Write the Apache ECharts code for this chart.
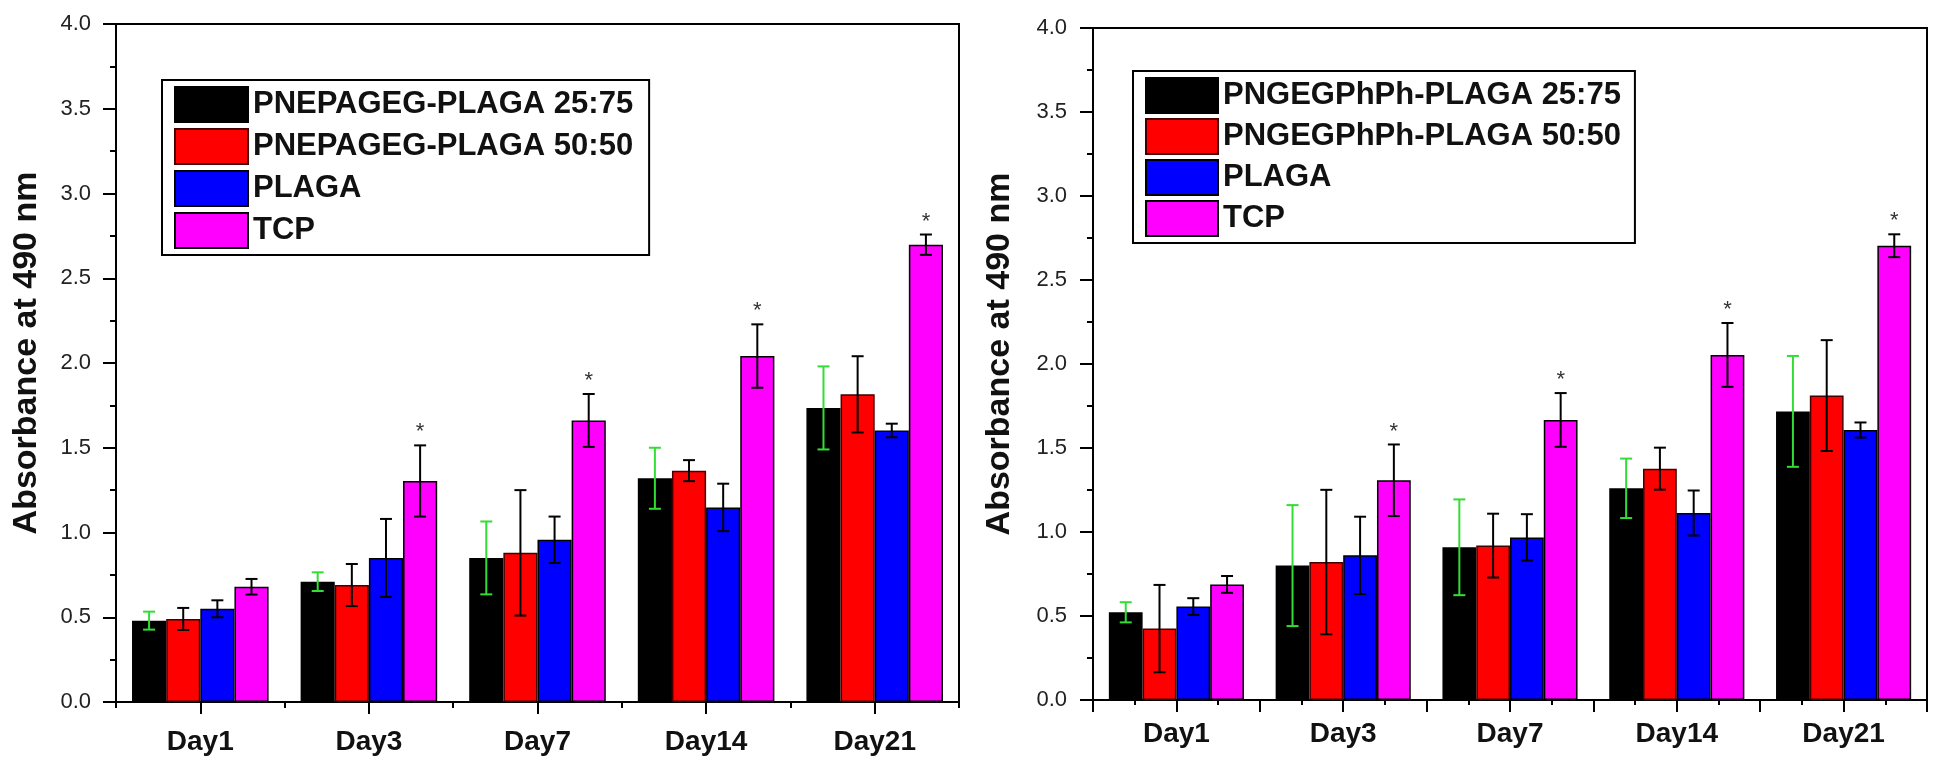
<!DOCTYPE html>
<html>
<head>
<meta charset="utf-8">
<script src="https://cdn.jsdelivr.net/npm/echarts@6/dist/echarts.min.js"></script>
<style>
html,body{margin:0;padding:0;background:#fff;}
#c{width:1937px;height:771px;}
</style>
</head>
<body>
<div id="c"></div>
<script>
// ---- data ----
const days = ['Day1', 'Day3', 'Day7', 'Day14', 'Day21'];
const yTicks = ['0.0','0.5','1.0','1.5','2.0','2.5','3.0','3.5','4.0'];

const leftNames = ['PNEPAGEG-PLAGA 25:75', 'PNEPAGEG-PLAGA 50:50', 'PLAGA', 'TCP'];
const L_pne2575 = [0.48, 0.71, 0.85, 1.32, 1.735];
const L_pne2575_err = [0.053, 0.055, 0.215, 0.18, 0.245];
const L_pne5050 = [0.49, 0.69, 0.88, 1.365, 1.815];
const L_pne5050_err = [0.065, 0.124, 0.37, 0.062, 0.225];
const L_plaga = [0.55, 0.85, 0.957, 1.148, 1.602];
const L_plaga_err = [0.05, 0.23, 0.137, 0.14, 0.04];
const L_tcp = [0.68, 1.304, 1.661, 2.041, 2.698];
const L_tcp_err = [0.046, 0.21, 0.156, 0.187, 0.06];
const L_tcp_marks = ['', '*', '*', '*', '*'];

const rightNames = ['PNGEGPhPh-PLAGA 25:75', 'PNGEGPhPh-PLAGA 50:50', 'PLAGA', 'TCP'];
const R_png2575 = [0.522, 0.80, 0.909, 1.26, 1.718];
const R_png2575_err = [0.06, 0.36, 0.285, 0.177, 0.33];
const R_png5050 = [0.425, 0.821, 0.919, 1.377, 1.812];
const R_png5050_err = [0.26, 0.43, 0.19, 0.125, 0.33];
const R_plaga = [0.556, 0.861, 0.968, 1.113, 1.607];
const R_plaga_err = [0.05, 0.23, 0.138, 0.134, 0.045];
const R_tcp = [0.688, 1.308, 1.667, 2.054, 2.704];
const R_tcp_err = [0.05, 0.213, 0.16, 0.19, 0.068];
const R_tcp_marks = ['', '*', '*', '*', '*'];

// ---- styling ----
const FONT = '"Liberation Sans", Arial, sans-serif';
const colors = ['#000000', '#ff0000', '#0000ff', '#ff00ff'];
const errColors = ['#33dd33', '#000000', '#000000', '#000000'];
const CAT_GAP = 0.19;

function barSeries(name, vals, idx, xi, yi) {
  return {
    type: 'bar', name: name, data: vals, xAxisIndex: xi, yAxisIndex: yi,
    barGap: '0%', barCategoryGap: (CAT_GAP * 100) + '%',
    itemStyle: {color: colors[idx], borderColor: idx === 1 ? '#400' : '#000', borderWidth: 1.5},
    emphasis: {disabled: true}, z: 2
  };
}

function errSeries(vals, errs, idx, xi, yi, marks) {
  return {
    type: 'custom', xAxisIndex: xi, yAxisIndex: yi, z: 5,
    data: vals.map((v, i) => [i, v, errs[i]]),
    renderItem: function (params, api) {
      const x = api.value(0), v = api.value(1), e = api.value(2);
      const c = api.coord([x, v]);
      const band = api.size([1, 0])[0];
      const bw = band * (1 - CAT_GAP) / 4;
      const cx = c[0] + (idx - 1.5) * bw;
      const top = api.coord([x, v + e])[1];
      const bot = api.coord([x, v - e])[1];
      const hw = 6;
      const st = {stroke: errColors[idx], lineWidth: 2};
      const children = [
        {type: 'line', shape: {x1: cx, y1: top, x2: cx, y2: bot}, style: st},
        {type: 'line', shape: {x1: cx - hw, y1: top, x2: cx + hw, y2: top}, style: st},
        {type: 'line', shape: {x1: cx - hw, y1: bot, x2: cx + hw, y2: bot}, style: st}
      ];
      const m = marks ? marks[params.dataIndex] : '';
      if (m) {
        children.push({type: 'text', x: cx, y: top - 13,
          style: {text: m, fontSize: 22, fontFamily: FONT, fill: '#333', align: 'center', verticalAlign: 'middle'}});
      }
      return {type: 'group', children: children};
    }
  };
}

function yAxis(gridIndex, nameGap, labelMargin) {
  return {
    type: 'value', gridIndex: gridIndex, min: 0, max: 4, interval: 0.5,
    axisLine: {show: true, lineStyle: {color: '#000', width: 2}},
    axisTick: {show: true, inside: false, length: 13, lineStyle: {color: '#000', width: 2}},
    minorTick: {show: true, splitNumber: 2, length: 6, lineStyle: {color: '#000', width: 2}},
    splitLine: {show: false},
    axisLabel: {fontSize: 22, fontFamily: FONT, color: '#222', margin: labelMargin,
      formatter: function (v) { return yTicks[Math.round(v / 0.5)]; }},
    name: 'Absorbance at 490 nm', nameLocation: 'middle', nameGap: nameGap,
    nameTextStyle: {fontSize: 34, fontWeight: 'bold', fontFamily: FONT, color: '#111', padding: [0, 0, 0, 20]}
  };
}

function catAxis(gridIndex, showTick, labelMargin) {
  return {
    type: 'category', gridIndex: gridIndex, data: days, position: 'bottom',
    axisLine: {show: true, lineStyle: {color: '#000', width: 2}},
    axisTick: {show: showTick, alignWithLabel: true, length: 12, lineStyle: {color: '#000', width: 2}},
    axisLabel: {fontSize: 28, fontWeight: 'bold', fontFamily: FONT, color: '#111', margin: labelMargin},
    splitLine: {show: false}
  };
}

const option = {
  backgroundColor: '#fff',
  animation: false,
  grid: [
    {left: 116, top: 24, width: 843, height: 678, show: true, borderColor: '#000', borderWidth: 2, backgroundColor: 'transparent'},
    {left: 1093, top: 28, width: 834, height: 672, show: true, borderColor: '#000', borderWidth: 2, backgroundColor: 'transparent'}
  ],
  xAxis: [
    catAxis(0, true, 26),
    {type: 'value', gridIndex: 0, min: 0, max: 5, interval: 1, position: 'bottom',
      axisLine: {show: false}, axisLabel: {show: false}, splitLine: {show: false},
      axisTick: {show: true, length: 6, lineStyle: {color: '#000', width: 2}}},
    catAxis(1, false, 20),
    {type: 'value', gridIndex: 1, min: 0, max: 5, interval: 0.5, position: 'bottom',
      axisLine: {show: false}, axisLabel: {show: false}, splitLine: {show: false},
      axisTick: {show: true, length: 12, lineStyle: {color: '#000', width: 2}},
      minorTick: {show: true, splitNumber: 2, length: 5, lineStyle: {color: '#000', width: 2}}}
  ],
  yAxis: [yAxis(0, 72, 25), yAxis(1, 76, 26)],
  legend: [
    {data: leftNames, orient: 'vertical', left: 162, top: 80, icon: 'rect',
      itemWidth: 73, itemHeight: 35, itemGap: 5, padding: [6, 16, 6, 12],
      borderColor: '#000', borderWidth: 2, backgroundColor: '#fff', selectedMode: false,
      textStyle: {fontSize: 31, fontWeight: 'bold', fontFamily: FONT, color: '#111'}},
    {data: rightNames, orient: 'vertical', left: 1133, top: 71, icon: 'rect',
      itemWidth: 72, itemHeight: 35, itemGap: 4, padding: [6, 14, 6, 12],
      borderColor: '#000', borderWidth: 2, backgroundColor: '#fff', selectedMode: false,
      textStyle: {fontSize: 31, fontWeight: 'bold', fontFamily: FONT, color: '#111'}}
  ],
  series: [
    barSeries(leftNames[0], L_pne2575, 0, 0, 0),
    barSeries(leftNames[1], L_pne5050, 1, 0, 0),
    barSeries(leftNames[2], L_plaga, 2, 0, 0),
    barSeries(leftNames[3], L_tcp, 3, 0, 0),
    errSeries(L_pne2575, L_pne2575_err, 0, 0, 0),
    errSeries(L_pne5050, L_pne5050_err, 1, 0, 0),
    errSeries(L_plaga, L_plaga_err, 2, 0, 0),
    errSeries(L_tcp, L_tcp_err, 3, 0, 0, L_tcp_marks),
    barSeries(rightNames[0], R_png2575, 0, 2, 1),
    barSeries(rightNames[1], R_png5050, 1, 2, 1),
    barSeries(rightNames[2], R_plaga, 2, 2, 1),
    barSeries(rightNames[3], R_tcp, 3, 2, 1),
    errSeries(R_png2575, R_png2575_err, 0, 2, 1),
    errSeries(R_png5050, R_png5050_err, 1, 2, 1),
    errSeries(R_plaga, R_plaga_err, 2, 2, 1),
    errSeries(R_tcp, R_tcp_err, 3, 2, 1, R_tcp_marks)
  ]
};

const chart = echarts.init(document.getElementById('c'), null, {renderer: 'canvas'});
chart.setOption(option);
</script>
</body>
</html>
